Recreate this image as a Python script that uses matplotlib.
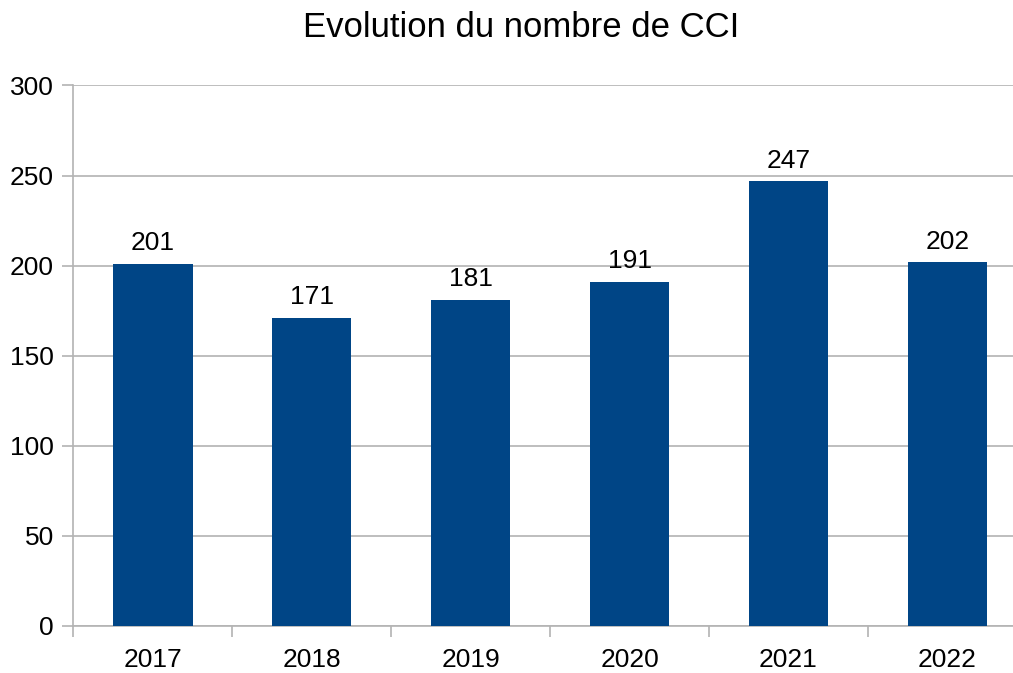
#!/usr/bin/env python3

import matplotlib
matplotlib.use("Agg")
from matplotlib import pyplot as plt

years = ["2017", "2018", "2019", "2020", "2021", "2022"]
counts = [201, 171, 181, 191, 247, 202]
y_ticks = [0, 50, 100, 150, 200, 250, 300]


def main():
    plt.rcParams['font.family'] = ['Liberation Sans', 'DejaVu Sans']
    grey = '#b3b3b3'

    fig = plt.figure(figsize=(10.13, 6.73), dpi=100)
    ax = fig.add_axes([0.0724, 0.0703, 0.9413, 0.8027])

    x = list(range(len(years)))
    bars = ax.bar(x, counts, width=0.5, color='#004586', zorder=3)

    ax.set_xlim(-0.5, len(years) - 0.5)
    ax.set_ylim(0, 300)
    ax.set_yticks(y_ticks)
    ax.yaxis.grid(True, color=grey, linewidth=1.2, zorder=0)

    # category labels in the middle, ticks on the boundaries
    ax.set_xticks(x)
    ax.set_xticklabels(years)
    ax.set_xticks([i - 0.5 for i in range(len(years) + 1)], minor=True)
    ax.tick_params(axis='x', which='major', length=0, pad=16, labelsize=19)
    ax.tick_params(axis='x', which='minor', length=8, color=grey, width=1.2)
    ax.tick_params(axis='y', length=8, color=grey, width=1.2, pad=6, labelsize=19)

    for side in ['top', 'right']:
        ax.spines[side].set_visible(False)
    for side in ['left', 'bottom']:
        ax.spines[side].set_color(grey)
        ax.spines[side].set_linewidth(1.2)

    for b, v in zip(bars, counts):
        ax.annotate(str(v), (b.get_x() + b.get_width() / 2, v),
                    xytext=(0, 6), textcoords='offset points',
                    ha='center', va='bottom', fontsize=19)

    fig.text(0.514, 0.9455, 'Evolution du nombre de CCI', ha='center',
             va='baseline', fontsize=25)

    fig.savefig('out.png', dpi=100)


if __name__ == "__main__":
    main()
